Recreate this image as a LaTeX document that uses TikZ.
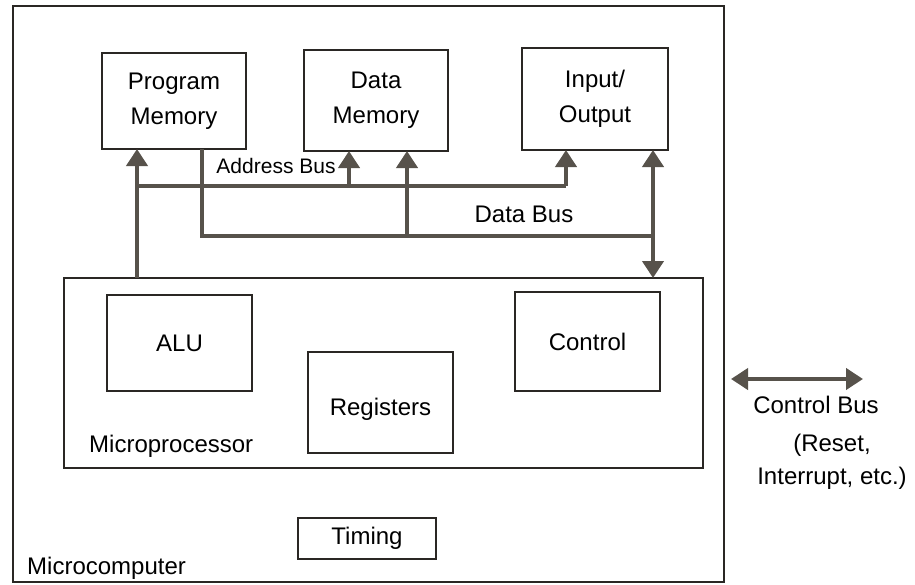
\documentclass[tikz,border=0pt]{standalone}
\usepackage{fontspec}
\setmainfont{Liberation Sans}
\usepackage{tikz}
\usetikzlibrary{arrows.meta}
\definecolor{busgray}{HTML}{57524B}
\definecolor{boxline}{HTML}{2A2724}
\tikzstyle{block}=[rectangle, draw=boxline, line width=2.6pt, align=center,
                    inner sep=0pt, outer sep=0pt, text=black]
\tikzstyle{bus}=[draw=busgray, line width=4.5pt, line join=miter]
\tikzstyle{tap}=[draw=busgray, line width=4pt,
                    -{Triangle[length=17pt,width=21pt]}]
\tikzstyle{twoway}=[draw=busgray, line width=4pt,
                    {Triangle[length=17pt,width=21pt]}-{Triangle[length=17pt,width=21pt]}]
\tikzstyle{lbl}=[inner sep=0pt, text=black]

\begin{document}
\begin{tikzpicture}[x=1pt, y=-1pt,
    every node/.style={font=\fontsize{24}{35}\selectfont}]
    \useasboundingbox (0,0) rectangle (915,584);
    \fill[white] (0,0) rectangle (915,584);
    % outer frame and the processor
    \node[block, minimum width=711, minimum height=576] (mc) at (368.5,294) {};
    \node[block, minimum width=639, minimum height=190] (mp) at (383.5,373) {};
    % memories and i/o
    \node[block, minimum width=144, minimum height=96] (pm) at (174,101)
        {Program\\ Memory};
    \node[block, minimum width=144, minimum height=101] (dm) at (376,100.5)
        {Data\\ Memory};
    \node[block, minimum width=146, minimum height=102] (io) at (595,99)
        {Input/\\ Output};
    % inside the processor
    \node[block, minimum width=145, minimum height=96] (alu) at (179.5,343) {ALU};
    \node[block, minimum width=145, minimum height=101, text height=31pt,
        text depth=5pt] (reg) at (380.5,402.5) {Registers};
    \node[block, minimum width=145, minimum height=99] (ctl) at (587.5,341.5)
        {Control};
    \node[block, minimum width=138, minimum height=41] (tim) at (367,538.5) {Timing};
    \node[lbl, anchor=west] (mplbl) at (89,446) {Microprocessor};
    \node[lbl, anchor=west] (mclbl) at (27,568) {Microcomputer};
    % bus taps
    \coordinate (pmA) at (137,186);
    \coordinate (pmD) at (202,236);
    \coordinate (dmA) at (349,186);
    \coordinate (dmD) at (407,236);
    \coordinate (ioA) at (566,186);
    \coordinate (ioD) at (653,236);
    \node[lbl, font=\fontsize{21}{25}\selectfont] (ablbl) at (276,166) {Address Bus};
    \node[lbl] (dblbl) at (524,214) {Data Bus};
    \draw[bus] (pmA) -- (ioA);
    \draw[bus] (pm.south -| pmD) -- (pmD) -- (ioD);
    \draw[tap] (mp.north -| pmA) -- (pm.south -| pmA);
    \foreach \from in {dmA, dmD}
      \draw[tap] (\from) -- (dm.south -| \from);
    \draw[tap] (ioA) -- (io.south -| ioA);
    \draw[twoway] (mp.north -| ioD) -- (io.south -| ioD);
    % control bus off to the side
    \node[lbl] (cblbl) at (816,405) {Control Bus};
    \node[lbl, align=center, font=\fontsize{24}{33}\selectfont] (cbnote)
        at (832,461.5) {(Reset,\\ Interrupt, etc.)};
    \coordinate (cbL) at (731,379);
    \coordinate (cbR) at (863,379);
    \draw[twoway] (cbL) -- (cbR);
\end{tikzpicture}
\end{document}
